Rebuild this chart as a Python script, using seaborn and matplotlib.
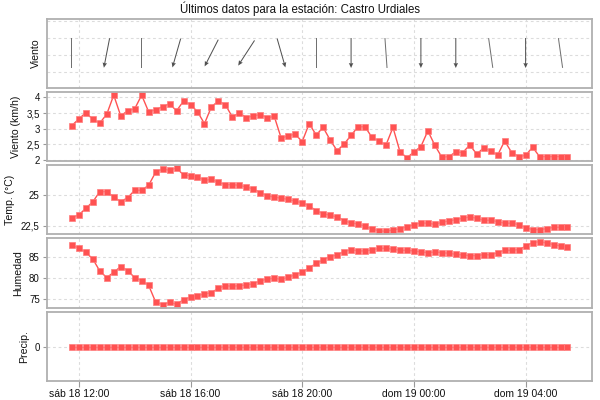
import numpy as np
import pandas as pd
import matplotlib
matplotlib.use("Agg")
import matplotlib.pyplot as plt
import matplotlib.dates as mdates
import seaborn as sns

# ---------------- data ----------------
titulo = "Últimos datos para la estación: Castro Urdiales"
inicio = "2015-07-18 11:45"
paso = "15min"

viento = [3.10, 3.31, 3.51, 3.30, 3.18, 3.46, 4.07, 3.41, 3.57, 3.63,
          4.07, 3.54, 3.60, 3.70, 3.79, 3.57, 3.88, 3.77, 3.54, 3.16,
          3.70, 3.88, 3.76, 3.37, 3.51, 3.35, 3.41, 3.45, 3.35, 3.39,
          2.69, 2.78, 2.82, 2.59, 3.16, 2.80, 3.04, 2.64, 2.30, 2.51,
          2.79, 3.06, 3.06, 2.72, 2.61, 2.48, 3.04, 2.27, 2.07, 2.26,
          2.43, 2.93, 2.47, 2.09, 2.11, 2.26, 2.24, 2.48, 2.19, 2.39,
          2.29, 2.16, 2.61, 2.24, 2.11, 2.15, 2.41, 2.11, 2.11, 2.11,
          2.11, 2.11]

temperatura = [23.15, 23.39, 23.92, 24.44, 25.27, 25.27, 24.84, 24.46, 24.78, 25.38,
               25.38, 25.78, 26.83, 27.10, 26.99, 27.18, 26.61, 26.56, 26.45, 26.18,
               26.26, 26.02, 25.83, 25.83, 25.78, 25.65, 25.48, 25.19, 24.92, 24.84,
               24.73, 24.65, 24.49, 24.38, 24.11, 23.74, 23.49, 23.36, 23.23, 22.93,
               22.74, 22.66, 22.47, 22.26, 22.10, 22.07, 22.18, 22.28, 22.42, 22.61,
               22.74, 22.72, 22.63, 22.80, 22.90, 23.01, 23.12, 23.23, 23.12, 22.96,
               22.96, 22.85, 22.72, 22.72, 22.61, 22.37, 22.20, 22.20, 22.28, 22.39,
               22.39, 22.39]

humedad = [87.86, 87.22, 86.19, 84.60, 81.75, 80.16, 81.43, 82.78, 81.83, 80.16,
           79.44, 78.33, 74.37, 73.73, 74.29, 73.81, 74.92, 75.48, 75.87, 76.27,
           76.59, 77.62, 78.25, 78.10, 78.25, 78.41, 78.73, 79.37, 79.84, 80.00,
           79.76, 80.24, 80.87, 81.43, 82.46, 83.57, 84.37, 85.16, 85.56, 86.35,
           86.83, 86.51, 86.51, 86.75, 87.14, 87.14, 86.90, 86.67, 86.67, 86.51,
           86.27, 86.11, 86.27, 86.11, 85.95, 85.71, 85.56, 85.40, 85.40, 85.63,
           85.56, 86.11, 86.67, 86.67, 86.83, 87.62, 88.49, 88.73, 88.41, 88.02,
           87.70, 87.46]

precipitacion = [0.0] * 72

# wind direction (degrees, meteorological "from"), one arrow every 5 readings
direccion = [0, 11, 0, 16, 27, 33, 344, 0, 0, 356, 0, 0, 352, 0, 352]
con_punta = [False, True, False, True, True, True, True, False, True, False,
             True, True, False, True, False]

ticks_x = ["2015-07-18 12:00", "2015-07-18 16:00", "2015-07-18 20:00",
           "2015-07-19 00:00", "2015-07-19 04:00"]
etiquetas_x = ["sáb 18 12:00", "sáb 18 16:00", "sáb 18 20:00",
               "dom 19 00:00", "dom 19 04:00"]
limites_x = ["2015-07-18 10:51", "2015-07-19 06:22"]

ticks_viento = [2, 2.5, 3, 3.5, 4]
etq_viento = ["2", "2,5", "3", "3,5", "4"]
ticks_temp = [22.5, 25]
etq_temp = ["22,5", "25"]
ticks_hum = [75, 80, 85]
etq_hum = ["75", "80", "85"]
ticks_prec = [0]
etq_prec = ["0"]

# ---------------- build ----------------
horas = pd.date_range(inicio, periods=len(viento), freq=paso)
df = pd.DataFrame({"hora": horas, "viento": viento, "temp": temperatura,
                   "hum": humedad, "prec": precipitacion})

sns.set_theme(style="white")
plt.rcParams["font.family"] = ["Liberation Sans", "DejaVu Sans"]

fig = plt.figure(figsize=(6, 4), dpi=100)
W, H = 600, 400
x0, x1 = 46.7, 591.7
paneles_px = [(19, 87.7), (92.3, 161), (165, 234), (238.3, 308), (312.3, 381)]
axes = []
for top, bot in paneles_px:
    ax = fig.add_axes([x0 / W, (H - bot) / H, (x1 - x0) / W, (bot - top) / H])
    axes.append(ax)

rojo = "#ff5252"
borde = "#ff7c7c"
grid_kw = dict(color="#dcdcdc", linestyle=(0, (2.5, 2.5)), linewidth=0.8)
xt = pd.to_datetime(ticks_x)
xl = pd.to_datetime(limites_x)

for ax in axes:
    ax.set_facecolor("white")
    for s in ax.spines.values():
        s.set_color("#b0b0b0")
        s.set_linewidth(1.3)
    ax.set_xlim(xl[0], xl[1])
    ax.set_xticks(xt)
    ax.grid(True, axis="both", **grid_kw)
    ax.tick_params(axis="y", labelsize=7, length=3, width=0.8, color="#999999",
                   pad=2, left=True, labelcolor="#111111")
    ax.tick_params(axis="x", bottom=False, labelbottom=False)

line_kw = dict(color=rojo, linewidth=1.0, marker="s", markersize=5.0,
               markeredgecolor=borde, markeredgewidth=0.5)

lab_kw = dict(fontsize=7.6, labelpad=4, color="#111111")

# direction panel
ax = axes[0]
ax.set_ylim(-0.92, 3.12)
ax.set_yticks([0, 1, 2, 3])
ax.tick_params(axis="y", left=False, labelleft=False)
t_flechas = mdates.date2num(horas[::5])
rad = np.deg2rad(direccion)
L = 30
u = -np.sin(rad) * L
v = -np.cos(rad) * L
punta = np.array(con_punta)
yy = np.full(len(direccion), 1.12)
ax.quiver(t_flechas[punta], yy[punta], u[punta], v[punta], angles="uv",
          scale_units="dots", scale=1, units="dots", width=1.0, pivot="middle",
          headwidth=4.5, headlength=5, headaxislength=4.5, color="#505050", zorder=3)
ax.quiver(t_flechas[~punta], yy[~punta], u[~punta], v[~punta], angles="uv",
          scale_units="dots", scale=1, units="dots", width=1.0, pivot="middle",
          headwidth=1, headlength=0, headaxislength=0, color="#707070", zorder=3)
ax.set_ylabel("Viento", **lab_kw)

# wind speed
ax = axes[1]
sns.lineplot(data=df, x="hora", y="viento", ax=ax, **line_kw)
ax.set_ylim(1.97, 4.16)
ax.set_yticks(ticks_viento)
ax.set_yticklabels(etq_viento)
ax.set_ylabel("Viento (km/h)", **lab_kw)

# temperature
ax = axes[2]
sns.lineplot(data=df, x="hora", y="temp", ax=ax, **line_kw)
ax.set_ylim(21.85, 27.42)
ax.set_yticks(ticks_temp)
ax.set_yticklabels(etq_temp)
ax.set_ylabel("Temp. (°C)", **lab_kw)

# humidity
ax = axes[3]
sns.lineplot(data=df, x="hora", y="hum", ax=ax, **line_kw)
ax.set_ylim(72.93, 89.52)
ax.set_yticks(ticks_hum)
ax.set_yticklabels(etq_hum)
ax.set_ylabel("Humedad", **lab_kw)

# precipitation
ax = axes[4]
sns.lineplot(data=df, x="hora", y="prec", ax=ax, **line_kw)
ax.set_ylim(-1, 1)
ax.set_yticks(ticks_prec)
ax.set_yticklabels(etq_prec)
ax.set_ylabel("Precip.", **lab_kw)
ax.tick_params(axis="x", bottom=True, labelbottom=True, labelsize=7.5,
               length=4, width=0.8, color="#999999", pad=2, labelcolor="#111111")
ax.set_xticks(xt)
ax.set_xticklabels(etiquetas_x)

for ax in axes:
    ax.set_xlabel("")
    ax.set_xlim(xl[0], xl[1])

fig.text(0.5, 1 - 8.5 / H, titulo, ha="center", va="center", fontsize=8.3,
         color="#111111")

fig.savefig("out.png", dpi=100)
